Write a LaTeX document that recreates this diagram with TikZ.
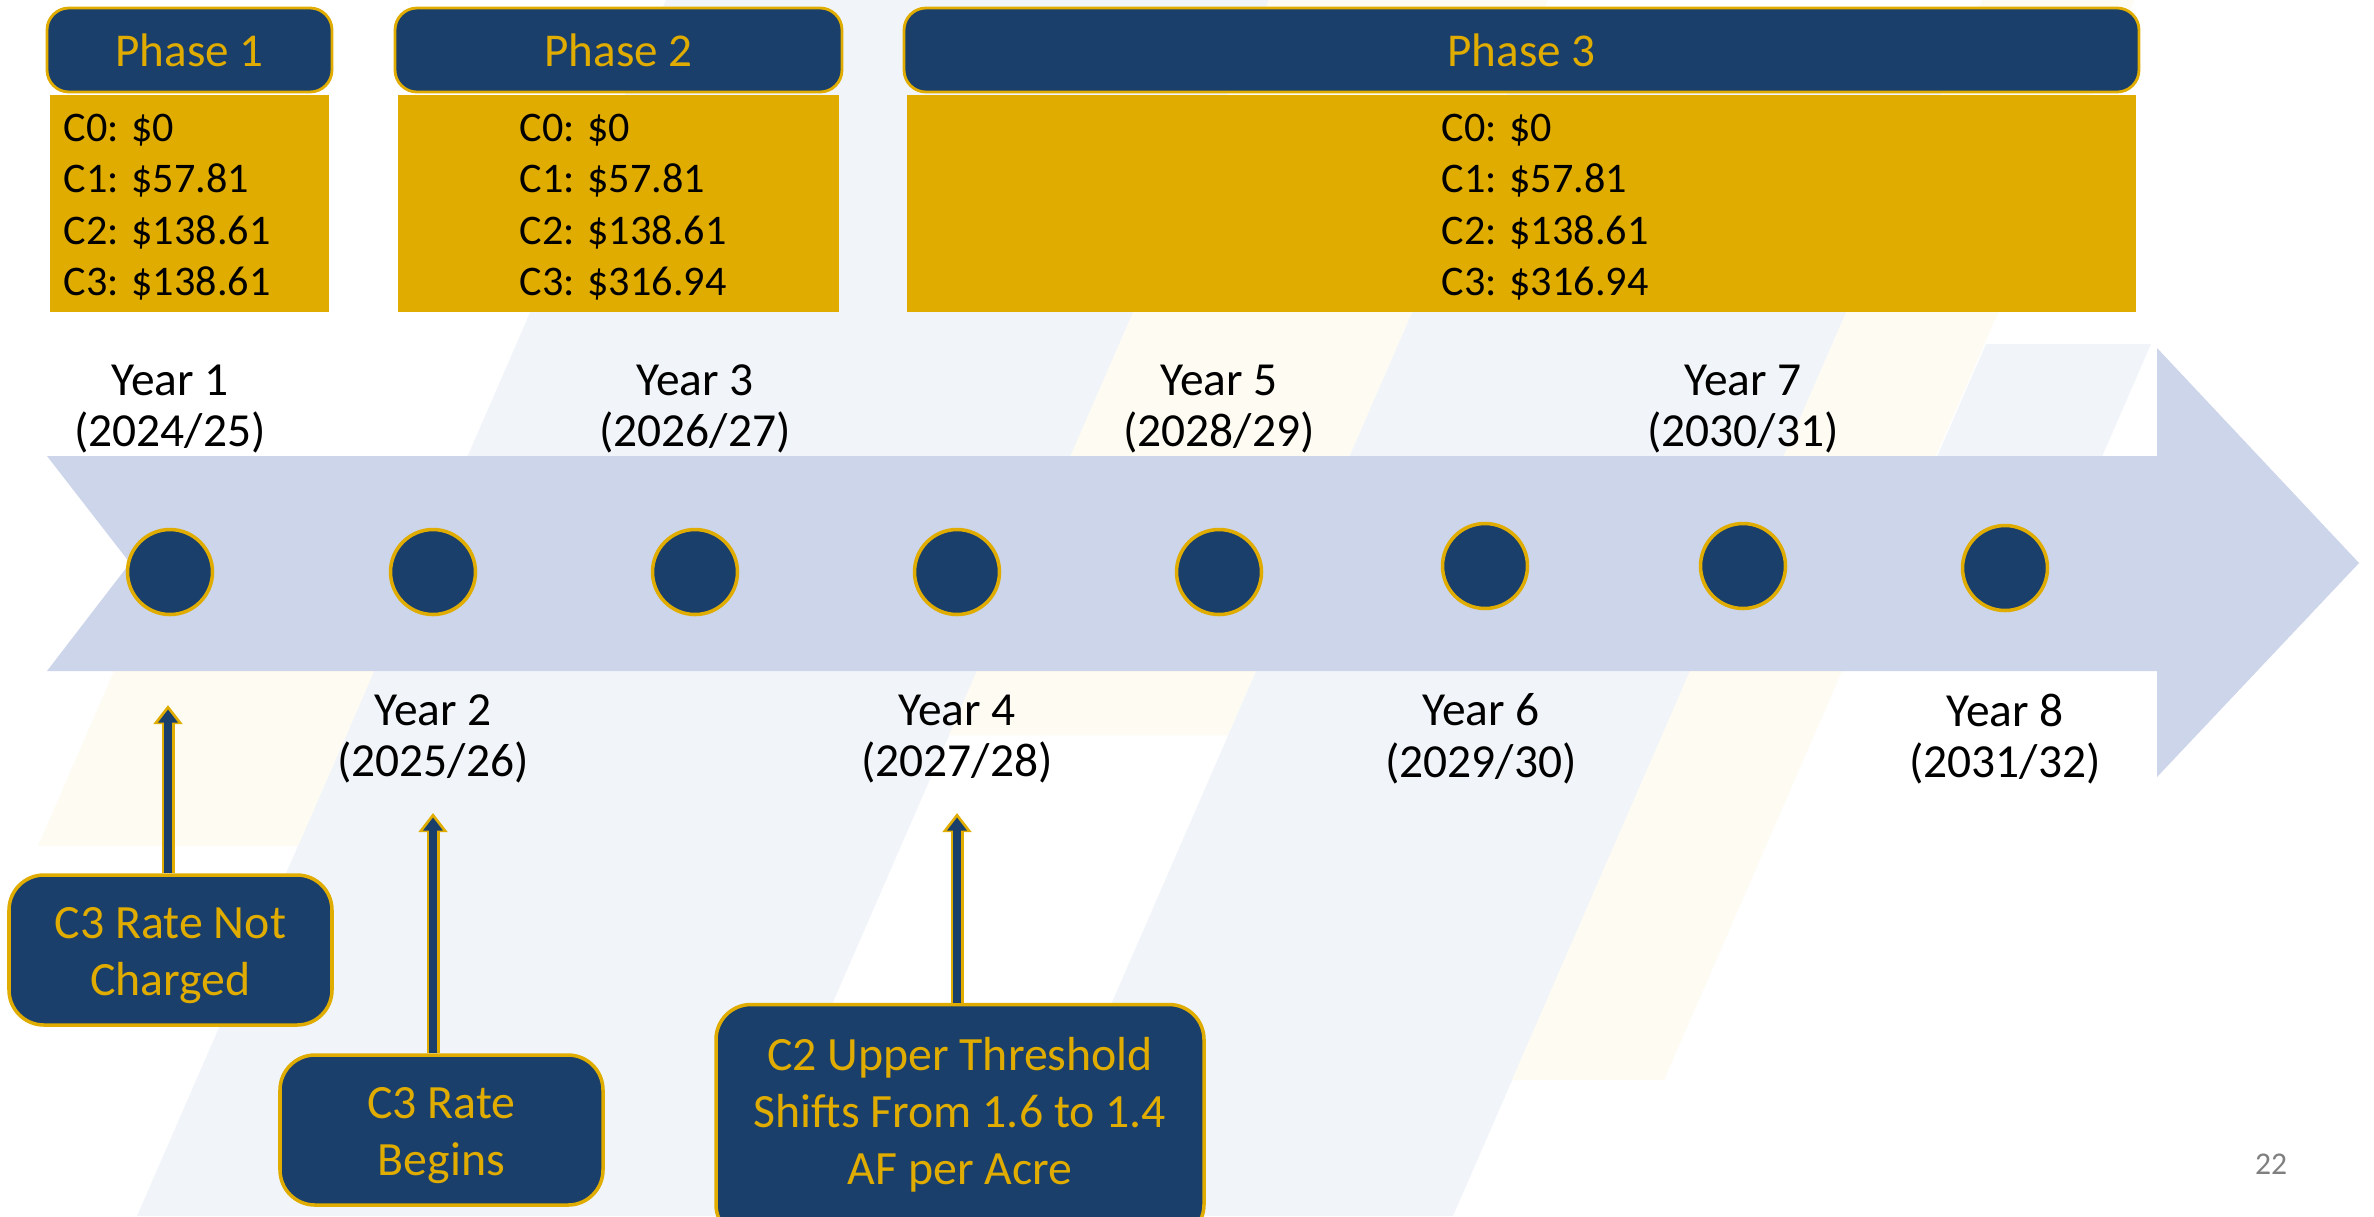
\documentclass[tikz,border=0pt]{standalone}
\usepackage{fontspec}
\setmainfont{Carlito}
\usetikzlibrary{arrows.meta,positioning}

\definecolor{navy}{HTML}{1A3F6B}
\definecolor{gold}{HTML}{E0AC00}
\definecolor{band}{HTML}{CDD5EA}
\definecolor{paleblue}{HTML}{F1F5F9}
\definecolor{palecream}{HTML}{FEFBF2}

\tikzset{
  phasehead/.style={draw=gold, fill=navy, line width=0.8pt, rounded corners=2.2mm,
    minimum height=8.4mm, text=gold, font=\fontsize{13.4}{16}\selectfont},
  ratebox/.style={fill=gold, minimum height=21.7mm},
  ratetext/.style={align=left, anchor=west, inner sep=0pt, font=\fontsize{12}{14.6}\selectfont},
  yearpt/.style={circle, draw=gold, fill=navy, line width=1pt, minimum size=8.5mm},
  yearlbl/.style={align=center, font=\fontsize{13.5}{14.7}\selectfont},
  callout/.style={draw=gold, fill=navy, line width=1pt, rounded corners=3.5mm},
  callouttext/.style={text=gold, align=center, font=\fontsize{13.6}{16.2}\selectfont},
  pointer/.style={gold, line width=1.3mm, -{Triangle[width=2.8mm,length=1.9mm]}},
  pointerfill/.style={navy, line width=0.75mm, -{Triangle[width=1.9mm,length=1.3mm]}},
}

\begin{document}
\begin{tikzpicture}[x=0.1mm, y=-0.1mm]
	%% page
	\useasboundingbox[fill=white] (0,0) rectangle (2374,1216);
	%% background stripes
	\fill[paleblue] (666,0) -- (1269,0) -- (740,1216) -- (137,1216) -- cycle;
	\fill[palecream] (206,460) -- (466,460) -- (298,846) -- (38,846) -- cycle;
	\fill[palecream] (1269,0) -- (1548,0) -- (1228,735) -- (949,735) -- cycle;
	\fill[paleblue] (1522,60) -- (1956,60) -- (1453,1216) -- (1019,1216) -- cycle;
	\fill[palecream] (1982,0) -- (2134,0) -- (1664,1080) -- (1512,1080) -- cycle;
	\fill[paleblue] (1986,344) -- (2151,344) -- (2031,620) -- (1866,620) -- cycle;

	%% timeline arrow
	\fill[band] (47,456) -- (2157,456) -- (2157,348) -- (2359,563) -- (2157,777)
		-- (2157,671) -- (47,671) -- (130,563) -- cycle;

	%% phases
	\node[phasehead, minimum width=28.5mm] (ph1) at (189.5,50) {Phase 1};
	\node[phasehead, minimum width=44.7mm] (ph2) at (618.5,50) {Phase 2};
	\node[phasehead, minimum width=123.5mm] (ph3) at (1521.5,50) {Phase 3};
	%% rates
	\node[ratebox, minimum width=27.9mm] (r1) at (189.5,203.5) {};
	\node[ratebox, minimum width=44.1mm] (r2) at (618.5,203.5) {};
	\node[ratebox, minimum width=122.9mm] (r3) at (1521.5,203.5) {};
	\node[ratetext] (rt1) at (63,207) {C0: \$0\\C1: \$57.81\\C2: \$138.61\\C3: \$138.61};
	\node[ratetext] (rt2) at (519,207) {C0: \$0\\C1: \$57.81\\C2: \$138.61\\C3: \$316.94};
	\node[ratetext] (rt3) at (1441,207) {C0: \$0\\C1: \$57.81\\C2: \$138.61\\C3: \$316.94};

	%% years on the timeline
	\node[yearpt] (y1) at (170,572) {};
	\node[yearpt] (y2) at (433,572) {};
	\node[yearpt] (y3) at (695,572) {};
	\node[yearpt] (y4) at (957,572) {};
	\node[yearpt] (y5) at (1219,572) {};
	\node[yearpt] (y6) at (1485,566) {};
	\node[yearpt] (y7) at (1743,566) {};
	\node[yearpt] (y8) at (2005,568) {};
	%% year labels
	\node[yearlbl] (l1) at (170,409) {Year 1\\(2024/25)};
	\node[yearlbl] (l3) at (695,409) {Year 3\\(2026/27)};
	\node[yearlbl] (l5) at (1219,409) {Year 5\\(2028/29)};
	\node[yearlbl] (l7) at (1743,409) {Year 7\\(2030/31)};
	\node[yearlbl] (l2) at (433,739) {Year 2\\(2025/26)};
	\node[yearlbl] (l4) at (957,739) {Year 4\\(2027/28)};
	\node[yearlbl] (l6) at (1481,739) {Year 6\\(2029/30)};
	\node[yearlbl] (l8) at (2005,739) {Year 8\\(2031/32)};

	%% callouts
	\node[callout, minimum width=32.3mm, minimum height=15mm] (c1) at (170.5,950) {};
	\node[callout, minimum width=32.3mm, minimum height=15mm] (c2) at (441.5,1130) {};
	\node[callout, minimum width=48.8mm, minimum height=23.5mm] (c3) at (960,1122) {};
	\node[callouttext] (ct1) at (170.5,956) {C3 Rate Not\\Charged};
	\node[callouttext] (ct2) at (441.5,1136) {C3 Rate\\Begins};
	\node[callouttext] (ct3) at (960,1115) {C2 Upper Threshold\\Shifts From 1.6 to 1.4\\AF per Acre};
	\coordinate (t1) at (168,705);
	\coordinate (t2) at (433,813);
	\coordinate (t3) at (957,813);
	%%% pointers
	\draw[pointer] (t1 |- c1.north) -- (t1);
	\draw[pointerfill] (t1 |- c1.north) -- ([yshift=-0.45mm]t1);
	\draw[pointer] (t2 |- c2.north) -- (t2);
	\draw[pointerfill] (t2 |- c2.north) -- ([yshift=-0.45mm]t2);
	\draw[pointer] (t3 |- c3.north) -- (t3);
	\draw[pointerfill] (t3 |- c3.north) -- ([yshift=-0.45mm]t3);

	%% page number
	\node[text=gray, font=\fontsize{9}{11}\selectfont] (pg) at (2271,1164) {22};
\end{tikzpicture}
\end{document}
